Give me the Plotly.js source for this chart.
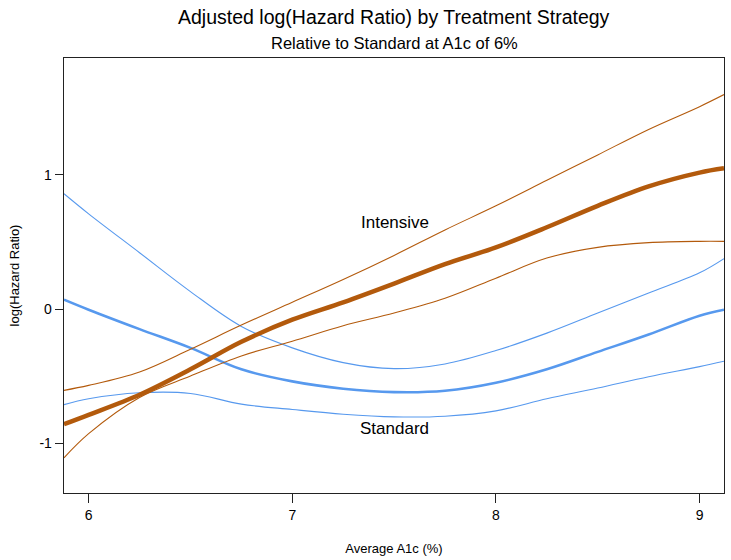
<!DOCTYPE html>
<html>
<head>
<meta charset="utf-8">
<script src="https://cdn.plot.ly/plotly-3.0.1.min.js"></script>
<style>html,body{margin:0;padding:0;background:#fff;}#chart{width:731px;height:560px;}</style>
</head>
<body>
<div id="chart"></div>
<script>
// A1c values (x) and log(HR) readings for each curve
const a1c    = [5.879, 6.0, 6.25, 6.5, 6.75, 7.0, 7.25, 7.5, 7.75, 8.0, 8.25, 8.5, 8.75, 9.0, 9.12];
const intMid = [-0.86, -0.79, -0.64, -0.45, -0.245, -0.08, 0.05, 0.19, 0.335, 0.46, 0.61, 0.77, 0.915, 1.018, 1.05];
const intUp  = [-0.607, -0.57, -0.47, -0.30, -0.12, 0.05, 0.22, 0.40, 0.59, 0.77, 0.96, 1.15, 1.34, 1.51, 1.60];
const intLo  = [-1.11, -0.93, -0.66, -0.50, -0.35, -0.24, -0.125, -0.03, 0.08, 0.23, 0.38, 0.46, 0.495, 0.505, 0.505];
const stdMid = [0.07, -0.005, -0.15, -0.29, -0.45, -0.54, -0.595, -0.62, -0.61, -0.55, -0.45, -0.32, -0.19, -0.05, -0.005];
const stdUp  = [0.86, 0.71, 0.42, 0.13, -0.13, -0.29, -0.40, -0.445, -0.41, -0.31, -0.18, -0.03, 0.12, 0.27, 0.376];
const stdLo  = [-0.714, -0.67, -0.625, -0.63, -0.71, -0.75, -0.785, -0.805, -0.80, -0.76, -0.67, -0.59, -0.505, -0.43, -0.39];

const tickVals = [6, 7, 8, 9];
const yTickVals = [-1, 0, 1];
const labels = ["Intensive", "Standard"];

const brown = "#B35A0C";
const blue = "#5799EE";

const traces = [
  {x: a1c, y: stdUp, mode: "lines", line: {color: blue, width: 1.1, shape: "spline"}},
  {x: a1c, y: stdLo, mode: "lines", line: {color: blue, width: 1.1, shape: "spline"}},
  {x: a1c, y: stdMid, mode: "lines", line: {color: blue, width: 2.6, shape: "spline"}},
  {x: a1c, y: intUp, mode: "lines", line: {color: brown, width: 1.1, shape: "spline"}},
  {x: a1c, y: intLo, mode: "lines", line: {color: brown, width: 1.1, shape: "spline"}},
  {x: a1c, y: intMid, mode: "lines", line: {color: brown, width: 4.5, shape: "spline"}}
];

const font = "Liberation Sans, Arial, sans-serif";

const layout = {
  width: 731, height: 560,
  margin: {l: 64, r: 7, t: 58, b: 67},
  showlegend: false,
  paper_bgcolor: "#fff", plot_bgcolor: "#fff",
  font: {family: font, color: "#000"},
  xaxis: {
    range: [5.879, 9.12], tickvals: tickVals, ticktext: tickVals.map(String),
    showgrid: false, zeroline: false, showline: true, mirror: true, linecolor: "#222", linewidth: 1.3,
    ticks: "outside", ticklen: 9, tickcolor: "#222", tickfont: {size: 14, family: font},
    title: {text: "Average A1c (%)", font: {size: 13, family: font}, standoff: 21}
  },
  yaxis: {
    range: [-1.373, 1.873], tickvals: yTickVals, ticktext: yTickVals.map(String),
    showgrid: false, zeroline: false, showline: true, mirror: true, linecolor: "#222", linewidth: 1.3,
    ticks: "outside", ticklen: 8, tickcolor: "#222", tickfont: {size: 14, family: font},
    title: {text: "log(Hazard Ratio)", font: {size: 13, family: font}, standoff: 17}
  },
  annotations: [
    {xref: "paper", yref: "paper", x: 0.5, y: 1, yshift: 41, yanchor: "middle", showarrow: false,
     text: "Adjusted log(Hazard Ratio) by Treatment Strategy", font: {size: 19.5, family: font}},
    {xref: "paper", yref: "paper", x: 0.5, y: 1, yshift: 15, yanchor: "middle", showarrow: false,
     text: "Relative to Standard at A1c of 6%", font: {size: 16.5, family: font}},
    {x: 7.504, y: 0.647, showarrow: false, text: labels[0], font: {size: 17, family: font}},
    {x: 7.504, y: -0.89, showarrow: false, text: labels[1], font: {size: 17, family: font}}
  ]
};

Plotly.newPlot("chart", traces, layout, {displayModeBar: false, staticPlot: true});
</script>
</body>
</html>
